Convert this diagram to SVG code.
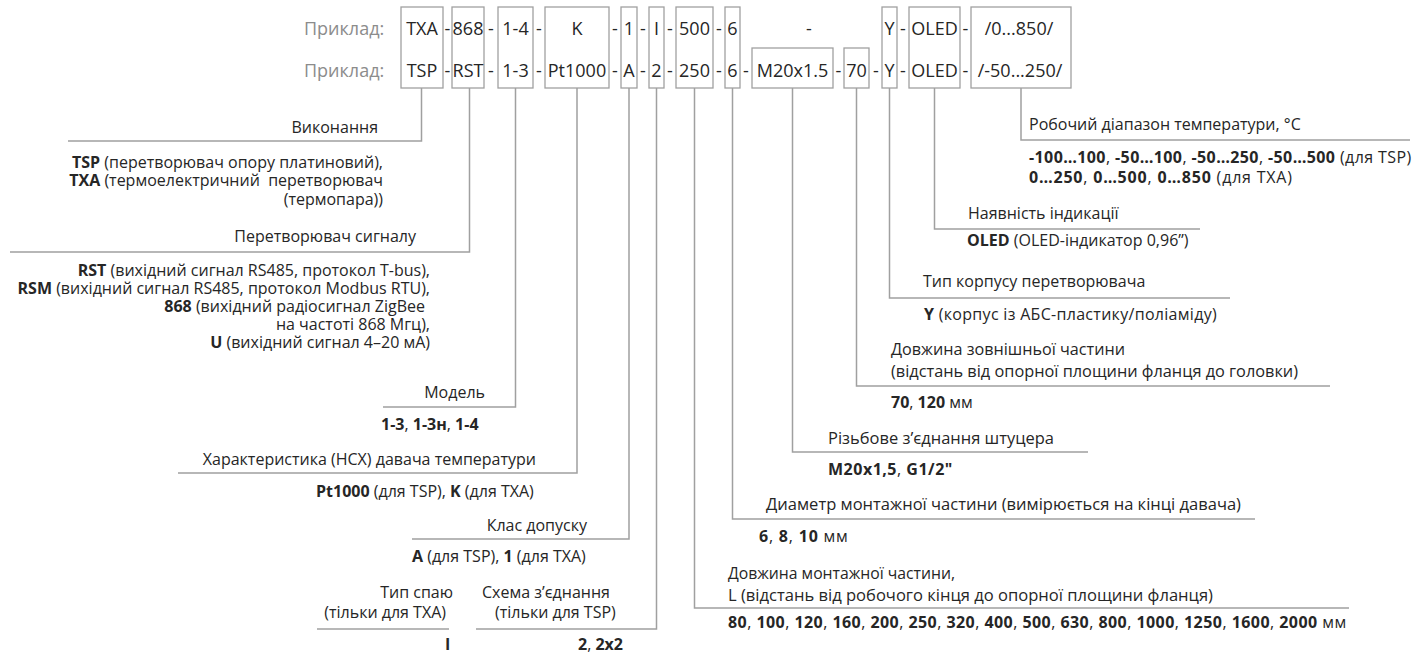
<svg xmlns="http://www.w3.org/2000/svg" width="1419" height="654" viewBox="0 0 1419 654">
<style>
.box{fill:none;stroke:#a0a0a0;stroke-width:1.3}
.con{fill:none;stroke:#a0a0a0;stroke-width:1.5}
text{font-family:'Open Sans','Noto Sans','DejaVu Sans',sans-serif;font-size:16px;fill:#262626}
.top{font-size:18px;text-anchor:middle}
.ex{fill:#8c8c8c;font-size:18px}
.b{font-weight:bold}
.e{text-anchor:end}
</style>
<rect width="1419" height="654" fill="#fff"/>
<g id="header">
<text class="ex" x="304" y="35">Приклад:</text>
<text class="ex" x="304" y="77">Приклад:</text>
<text class="top" x="447.5" y="35">-</text><text class="top" x="447.5" y="77">-</text>
<text class="top" x="491" y="35">-</text><text class="top" x="491" y="77">-</text>
<text class="top" x="539" y="35">-</text><text class="top" x="539" y="77">-</text>
<text class="top" x="615" y="35">-</text><text class="top" x="615" y="77">-</text>
<text class="top" x="643" y="35">-</text><text class="top" x="643" y="77">-</text>
<text class="top" x="670" y="35">-</text><text class="top" x="670" y="77">-</text>
<text class="top" x="719" y="35">-</text><text class="top" x="719" y="77">-</text>
<text class="top" x="746" y="77">-</text>
<text class="top" x="809" y="35">-</text>
<text class="top" x="838.5" y="77">-</text>
<text class="top" x="876" y="77">-</text>
<text class="top" x="903" y="35">-</text><text class="top" x="903" y="77">-</text>
<text class="top" x="965.5" y="35">-</text><text class="top" x="965.5" y="77">-</text>
</g>
<g id="connectors">
<path class="con" d="M421.5 88V141H68"/>
<path class="con" d="M469.5 88V252H10"/>
<path class="con" d="M515.5 88V407H383"/>
<path class="con" d="M577 88V473H178"/>
<path class="con" d="M629 88V539H412"/>
<path class="con" d="M656.5 88V629H476"/>
<path class="con" d="M317 629H449"/>
<path class="con" d="M694.5 88V608H1349"/>
<path class="con" d="M732.5 88V519H1255"/>
<path class="con" d="M792.5 88V452H1088"/>
<path class="con" d="M856.5 88V386H1330"/>
<path class="con" d="M889.5 88V298H1230"/>
<path class="con" d="M934.5 88V229H1200"/>
<path class="con" d="M1021 88V140H1410"/>
</g>
<g id="n-vykonannia">
<rect class="box" x="401" y="7" width="42" height="81"/>
<text class="top" x="422" y="35">TXA</text>
<text class="top" x="422" y="77">TSP</text>
<text class="e" x="378" y="133">Виконання</text>
<text class="e" x="383" y="168"><tspan class="b">TSP</tspan> (перетворювач опору платиновий),</text>
<text class="e" x="383" y="186"><tspan class="b">TXA</tspan> (термоелектричний&#160; перетворювач</text>
<text class="e" x="383" y="205">(термопара))</text>
</g>
<g id="n-peretvoriuvach">
<rect class="box" x="452" y="7" width="32" height="81"/>
<text class="top" x="468" y="35">868</text>
<text class="top" x="468" y="77">RST</text>
<text class="e" x="416" y="242">Перетворювач сигналу</text>
<text class="e" x="430" y="276"><tspan class="b">RST</tspan> (вихідний сигнал RS485, протокол T-bus),</text>
<text class="e" x="430" y="294"><tspan class="b">RSM</tspan> (вихідний сигнал RS485, протокол Modbus RTU),</text>
<text class="e" x="425" y="312"><tspan class="b">868</tspan> (вихідний радіосигнал ZigBee</text>
<text class="e" x="430" y="330">на частоті 868 Мгц),</text>
<text class="e" x="430" y="348"><tspan class="b">U</tspan> (вихідний сигнал 4–20 мА)</text>
</g>
<g id="n-model">
<rect class="box" x="498" y="7" width="35" height="81"/>
<text class="top" x="515.5" y="35">1-4</text>
<text class="top" x="515.5" y="77">1-3</text>
<text class="e" x="485" y="398">Модель</text>
<text x="381" y="430"><tspan class="b">1-3</tspan>, <tspan class="b">1-3н</tspan>, <tspan class="b">1-4</tspan></text>
</g>
<g id="n-nsx">
<rect class="box" x="545" y="7" width="64" height="81"/>
<text class="top" x="577" y="35">K</text>
<text class="top" x="577" y="77">Pt1000</text>
<text class="e" x="536" y="465">Характеристика (НСХ) давача температури</text>
<text x="316" y="497"><tspan class="b">Pt1000</tspan> (для TSP), <tspan class="b">K</tspan> (для TXA)</text>
</g>
<g id="n-klas">
<rect class="box" x="621" y="7" width="16" height="81"/>
<text class="top" x="629" y="35">1</text>
<text class="top" x="629" y="77">A</text>
<text class="e" x="587" y="531">Клас допуску</text>
<text x="412" y="562"><tspan class="b">A</tspan> (для TSP), <tspan class="b">1</tspan> (для TXA)</text>
</g>
<g id="n-typ-spaiu">
<text class="e" x="453" y="598">Тип спаю</text>
<text class="e" x="446" y="618">(тільки для TXA)</text>
<text class="b" x="445" y="650">I</text>
</g>
<g id="n-skhema">
<rect class="box" x="649" y="7" width="15" height="81"/>
<text class="top" x="656.5" y="35">I</text>
<text class="top" x="656.5" y="77">2</text>
<text x="482" y="598">Схема з’єднання</text>
<text x="495" y="618">(тільки для TSP)</text>
<text class="e" x="623" y="650"><tspan class="b">2</tspan>, <tspan class="b">2x2</tspan></text>
</g>
<g id="n-dovzhyna">
<rect class="box" x="676" y="7" width="37" height="81"/>
<text class="top" x="694.5" y="35">500</text>
<text class="top" x="694.5" y="77">250</text>
<text x="728" y="579" textLength="227" lengthAdjust="spacingAndGlyphs">Довжина монтажної частини,</text>
<text x="728" y="601" textLength="485" lengthAdjust="spacingAndGlyphs">L (відстань від робочого кінця до опорної площини фланця)</text>
<text x="728" y="628" letter-spacing="0.45"><tspan class="b">80</tspan>, <tspan class="b">100</tspan>, <tspan class="b">120</tspan>, <tspan class="b">160</tspan>, <tspan class="b">200</tspan>, <tspan class="b">250</tspan>, <tspan class="b">320</tspan>, <tspan class="b">400</tspan>, <tspan class="b">500</tspan>, <tspan class="b">630</tspan>, <tspan class="b">800</tspan>, <tspan class="b">1000</tspan>, <tspan class="b">1250</tspan>, <tspan class="b">1600</tspan>, <tspan class="b">2000</tspan> мм</text>
</g>
<g id="n-diametr">
<rect class="box" x="725" y="7" width="15" height="81"/>
<text class="top" x="732.5" y="35">6</text>
<text class="top" x="732.5" y="77">6</text>
<text x="766" y="510" textLength="475" lengthAdjust="spacingAndGlyphs">Диаметр монтажної частини (вимірюється на кінці давача)</text>
<text x="759" y="542" letter-spacing="0.8"><tspan class="b">6</tspan>, <tspan class="b">8</tspan>, <tspan class="b">10</tspan> мм</text>
</g>
<g id="n-rizba">
<rect class="box" x="752" y="48" width="81" height="40"/>
<text class="top" x="792.5" y="77">M20x1.5</text>
<text x="828" y="444" textLength="226" lengthAdjust="spacingAndGlyphs">Різьбове з’єднання штуцера</text>
<text x="828" y="475" letter-spacing="0.5"><tspan class="b">M20x1,5</tspan>, <tspan class="b">G1/2"</tspan></text>
</g>
<g id="n-zovnishnia">
<rect class="box" x="844" y="48" width="25" height="40"/>
<text class="top" x="856.5" y="77">70</text>
<text x="891" y="355" textLength="234" lengthAdjust="spacingAndGlyphs">Довжина зовнішньої частини</text>
<text x="891" y="377" textLength="407" lengthAdjust="spacingAndGlyphs">(відстань від опорної площини фланця до головки)</text>
<text x="891" y="408"><tspan class="b">70</tspan>, <tspan class="b">120</tspan> мм</text>
</g>
<g id="n-korpus">
<rect class="box" x="882" y="7" width="15" height="81"/>
<text class="top" x="889.5" y="35">Y</text>
<text class="top" x="889.5" y="77">Y</text>
<text x="923" y="287">Тип корпусу перетворювача</text>
<text x="924" y="320" letter-spacing="0.3"><tspan class="b">Y</tspan> (корпус із АБС-пластику/поліаміду)</text>
</g>
<g id="n-indykatsiia">
<rect class="box" x="909" y="7" width="51" height="81"/>
<text class="top" x="934.5" y="35">OLED</text>
<text class="top" x="934.5" y="77">OLED</text>
<text x="968" y="219">Наявність індикації</text>
<text x="967" y="246"><tspan class="b">OLED</tspan> (OLED-індикатор 0,96”)</text>
</g>
<g id="n-diapazon">
<rect class="box" x="971" y="7" width="100" height="81"/>
<text class="top" x="1019" y="35">/0...850/</text>
<text class="top" x="1020" y="77">/-50...250/</text>
<text x="1029" y="130">Робочий діапазон температури, °C</text>
<text x="1029" y="163" letter-spacing="0.4"><tspan class="b">-100…100</tspan>, <tspan class="b">-50…100</tspan>, <tspan class="b">-50…250</tspan>, <tspan class="b">-50…500</tspan> (для TSP)</text>
<text x="1029" y="183" letter-spacing="0.8"><tspan class="b">0…250</tspan>, <tspan class="b">0…500</tspan>, <tspan class="b">0…850</tspan> (для TXA)</text>
</g>
</svg>
